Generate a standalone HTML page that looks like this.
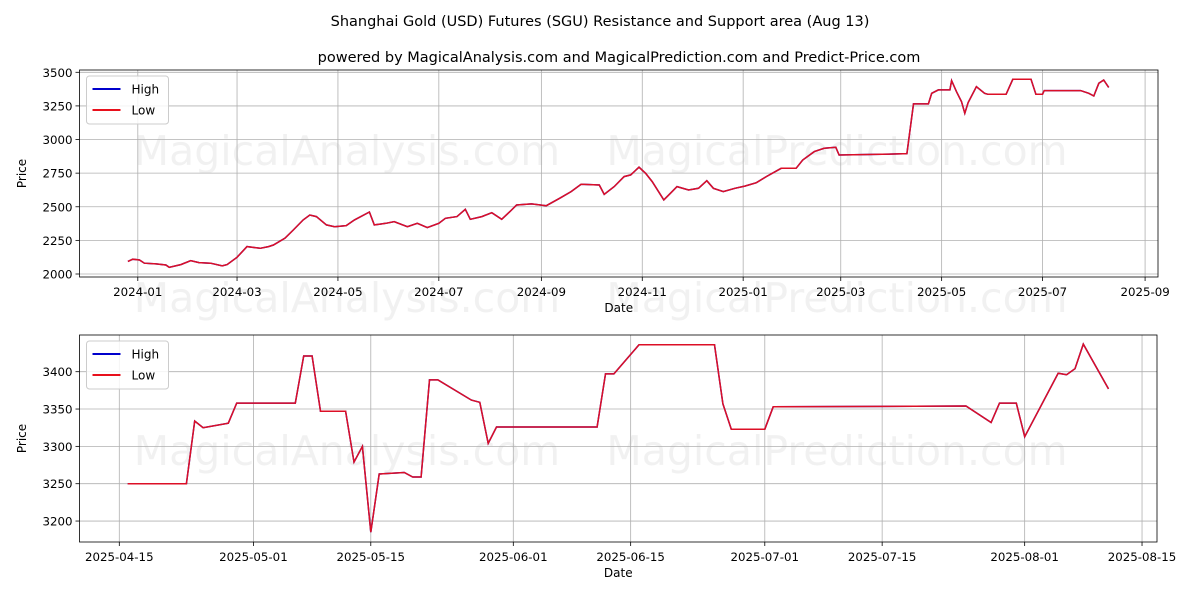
<!DOCTYPE html>
<html><head><meta charset="utf-8"><style>
body{margin:0;background:#fff;width:1200px;height:600px;overflow:hidden}
svg text{font-family:"DejaVu Sans","Liberation Sans",sans-serif;fill:#000}
</style></head><body>
<svg id="c" width="1200" height="600">
<text x="600" y="26" font-size="14.5" text-anchor="middle">Shanghai Gold (USD) Futures (SGU) Resistance and Support area (Aug 13)</text>
<text x="619" y="62" font-size="14.5" text-anchor="middle">powered by MagicalAnalysis.com and MagicalPrediction.com and Predict-Price.com</text>
</svg>
<script>
// Top chart data: days since 2024-01-01, price
const topDays=[-6,-3,1,4,11,17,19,26,32,37,44,51,54,60,66,74,79,82,89,94,100,104,108,114,119,126,131,140,143,150,155,163,169,175,182,186,193,198,201,208,214,220,225,229,238,247,255,262,268,279,282,288,294,298,303,307,311,318,322,326,333,339,344,348,354,361,367,374,380,389,398,402,409,415,422,424,450,465,469,478,480,484,491,492,495,498,500,502,507,512,514,525,529,540,543,547,548,570,575,578,581,584,587];
const topVals=[2094,2110,2104,2080,2075,2067,2050,2070,2099,2085,2080,2060,2070,2124,2204,2191,2204,2216,2266,2327,2402,2439,2427,2365,2352,2360,2402,2461,2365,2377,2389,2352,2377,2345,2377,2414,2427,2481,2407,2427,2456,2407,2464,2513,2521,2508,2563,2613,2667,2662,2593,2650,2724,2737,2794,2749,2687,2551,2600,2650,2625,2637,2694,2637,2613,2637,2654,2679,2724,2786,2786,2848,2910,2935,2942,2885,2890,2895,3265,3265,3344,3369,3369,3438,3356,3282,3195,3274,3393,3344,3336,3336,3448,3448,3336,3336,3364,3364,3344,3324,3418,3443,3388];
const topYTicks=[2000,2250,2500,2750,3000,3250,3500];
const topXTicks=["2024-01","2024-03","2024-05","2024-07","2024-09","2024-11","2025-01","2025-03","2025-05","2025-07","2025-09"];
const topXTickDays=[0,60,121,182,244,305,366,425,486,547,609];
// Bottom chart data: days since 2025-04-15, price
const botDays=[1,8,9,10,13,14,21,22,23,24,27,28,29,30,31,34,35,36,37,38,42,43,44,45,57,58,59,62,71,72,73,77,78,101,104,105,107,108,112,113,114,115,118];
const botVals=[3250,3250,3334,3325,3331,3358,3358,3421,3421,3347,3347,3279,3300,3185,3263,3265,3259,3259,3389,3389,3362,3359,3304,3326,3326,3397,3397,3436,3436,3357,3323,3323,3353,3354,3332,3358,3358,3313,3398,3396,3404,3437,3377];
const botYTicks=[3200,3250,3300,3350,3400];
const botXTicks=["2025-04-15","2025-05-01","2025-05-15","2025-06-01","2025-06-15","2025-07-01","2025-07-15","2025-08-01","2025-08-15"];
const botXTickDays=[0,16,30,47,61,77,91,108,122];

const NS="http://www.w3.org/2000/svg";
const svg=document.getElementById('c');
function mk(tag,attrs,parent){const e=document.createElementNS(NS,tag);for(const k in attrs)e.setAttribute(k,attrs[k]);(parent||svg).appendChild(e);return e;}

// background watermarks
[[165,0.05],[312,0.05],[465,0.05]].forEach(w=>{
  [[347,'MagicalAnalysis.com'],[837,'MagicalPrediction.com']].forEach(p=>{
    const t=mk('text',{x:p[0],y:w[0],'font-size':41,'text-anchor':'middle',style:'fill:#000;opacity:'+w[1]});
    t.textContent=p[1];
    
    
  });
});

function panel(cfg){
  const {L,R,T,B,x0,xs,y0,ys,days,vals,yt,xt,xtd,name}=cfg;
  const X=d=>x0+d*xs, Y=v=>y0-(v-cfg.yref)*ys;
  const g=mk('g',{});
  
  
  yt.forEach(v=>{
    const l=mk('line',{x1:L,x2:R,y1:Y(v),y2:Y(v),stroke:'#b0b0b0','stroke-width':0.8},g);
    
    
    mk('line',{x1:L-4,x2:L,y1:Y(v),y2:Y(v),stroke:'#000','stroke-width':0.8},g);
    const t=mk('text',{x:L-7,y:Y(v)+4.5,'font-size':11.8,'text-anchor':'end'},g);
    t.textContent=v;
    
    
  });
  xt.forEach((s,i)=>{
    const x=X(xtd[i]);
    const l=mk('line',{x1:x,x2:x,y1:T,y2:B,stroke:'#b0b0b0','stroke-width':0.8},g);
    
    
    mk('line',{x1:x,x2:x,y1:B,y2:B+4,stroke:'#000','stroke-width':0.8},g);
    const t=mk('text',{x:x,y:B+19,'font-size':11.8,'text-anchor':'middle'},g);
    t.textContent=s;
    
    
  });
  const pts=days.map((d,i)=>X(d).toFixed(1)+','+Y(vals[i]).toFixed(1)).join(' ');
  const hi=mk('polyline',{points:pts,fill:'none',stroke:'#0000cc','stroke-width':1.5},g);
  
  
  const lo=mk('polyline',{points:pts,fill:'none',stroke:'#e8101c','stroke-width':1.5,'stroke-opacity':0.95},g);
  
  
  const fr=mk('rect',{x:L,y:T,width:R-L,height:B-T,fill:'none',stroke:'#000','stroke-width':0.8},g);
  
  
  const xl=mk('text',{x:(L+R)/2,y:B+35,'font-size':12,'text-anchor':'middle'},g);
  xl.textContent='Date';
  
  
  const yl=mk('text',{x:0,y:0,'font-size':12,'text-anchor':'middle',transform:`translate(26,${(T+B)/2}) rotate(-90)`},g);
  yl.textContent='Price';
  
  
  const lg=mk('g',{},g);
  
  
  mk('rect',{x:L+7,y:T+6,width:82,height:48,rx:3,fill:'#fff','fill-opacity':0.85,stroke:'#ccc'},lg);
  [['High','#0000cc',T+19],['Low','#e8101c',T+40]].forEach(e=>{
    const li=mk('line',{x1:L+13,x2:L+41,y1:e[2],y2:e[2],stroke:e[1],'stroke-width':2},lg);
    
    
    const t=mk('text',{x:L+52,y:e[2]+4.5,'font-size':12},lg);
    t.textContent=e[0];
    
    
  });
}
panel({name:'top-chart',L:79.5,R:1158,T:70,B:277,x0:137.8,xs:1.654,yref:2000,y0:274,ys:0.13447,days:topDays,vals:topVals,yt:topYTicks,xt:topXTicks,xtd:topXTickDays});
panel({name:'bottom-chart',L:79.5,R:1157,T:335,B:542,x0:119.3,xs:8.383,yref:3400,y0:371.7,ys:0.7467,days:botDays,vals:botVals,yt:botYTicks,xt:botXTicks,xtd:botXTickDays});
</script>
</body></html>
